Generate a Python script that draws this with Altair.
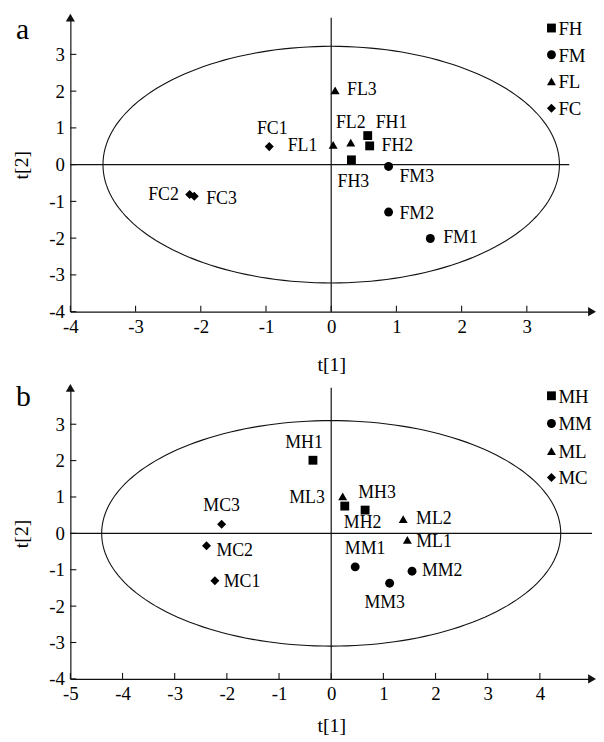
import altair as alt
import pandas as pd

FONT = "Liberation Serif"

# ---------------- panel a data ----------------
a_names = ["FH1", "FH2", "FH3", "FM1", "FM2", "FM3", "FL1", "FL2", "FL3", "FC1", "FC2", "FC3"]
a_groups = ["FH", "FH", "FH", "FM", "FM", "FM", "FL", "FL", "FL", "FC", "FC", "FC"]
a_t1 = [0.56, 0.59, 0.31, 1.52, 0.88, 0.88, 0.03, 0.30, 0.06, -0.95, -2.17, -2.10]
a_t2 = [0.79, 0.51, 0.13, -2.01, -1.29, -0.05, 0.54, 0.60, 2.02, 0.49, -0.81, -0.86]
a_legend = ["FH", "FM", "FL", "FC"]
a_xticks = [-4, -3, -2, -1, 0, 1, 2, 3]
a_yticks = [-4, -3, -2, -1, 0, 1, 2, 3]
a_xdomain = [-4, 4]
a_ydomain = [-4, 4]
a_ellipse = [3.5, 3.22]          # semi-axes of the confidence ellipse
a_hline = [-4, 3.65]             # extent of the t[2]=0 reference line

# ---------------- panel b data ----------------
b_names = ["MH1", "MH2", "MH3", "MM1", "MM2", "MM3", "ML1", "ML2", "ML3", "MC1", "MC2", "MC3"]
b_groups = ["MH", "MH", "MH", "MM", "MM", "MM", "ML", "ML", "ML", "MC", "MC", "MC"]
b_t1 = [-0.35, 0.26, 0.65, 0.46, 1.55, 1.12, 1.46, 1.38, 0.22, -2.23, -2.39, -2.10]
b_t2 = [2.01, 0.75, 0.64, -0.92, -1.04, -1.37, -0.18, 0.39, 1.02, -1.30, -0.34, 0.25]
b_legend = ["MH", "MM", "ML", "MC"]
b_xticks = [-5, -4, -3, -2, -1, 0, 1, 2, 3, 4]
b_yticks = [-4, -3, -2, -1, 0, 1, 2, 3]
b_xdomain = [-5, 5]
b_ydomain = [-4, 4]
b_ellipse = [4.4, 3.1]
b_hline = [-5, 5]

# ---------------- label placement (style, not data) ----------------
a_label_style = {
    "FL3": ("left", 12, 0), "FC1": ("center", 3, -18), "FL1": ("right", -16, 1),
    "FL2": ("center", 0, -20), "FH1": ("left", 8, -13), "FH2": ("left", 12, 0),
    "FH3": ("center", 2, 22), "FM3": ("left", 11, 11), "FM2": ("left", 11, 2),
    "FM1": ("left", 13, 0), "FC2": ("right", -11, 1), "FC3": ("left", 12, 3),
}
b_label_style = {
    "MH1": ("center", -9, -17), "ML3": ("right", -18, 2), "MH3": ("center", 12, -17),
    "MH2": ("center", 18, 17), "ML2": ("left", 13, 0), "ML1": ("left", 9, 2),
    "MM1": ("center", 10, -18), "MM2": ("left", 10, 0), "MM3": ("center", -5, 20),
    "MC3": ("center", 0, -18), "MC2": ("left", 10, 5), "MC1": ("left", 9, 1),
}

SHAPES = ["square", "circle", "triangle-up", "diamond"]
SIZES = [80, 85, 150, 90]
LINE = "#111111"
ARROW_KINDS = ["arrow-right", "arrow-up"]
ARROW_SHAPES = ["triangle-right", "triangle-up"]


def panel(names, groups, t1, t2, legend_order, xdom, ydom, xticks, yticks,
          ell, hline, letter, styles, W, H, letter_y, legend_rows, xtitle_pad):
    df = pd.DataFrame({"name": names, "group": groups, "t1": t1, "t2": t2})
    xs = alt.Scale(domain=xdom, nice=False, zero=False)
    ys = alt.Scale(domain=ydom, nice=False, zero=False)
    shape_scale = alt.Scale(domain=legend_order + ARROW_KINDS, range=SHAPES + ARROW_SHAPES)
    size_scale = alt.Scale(domain=legend_order + ARROW_KINDS, range=SIZES + [80, 80])
    common = dict(ticks=False, tickSize=0, grid=False, domainColor=LINE, domainWidth=1.2,
                  labelFont=FONT, labelFontSize=19, labelColor="black", labelFlush=False,
                  labelOverlap=False, labelExpr="'' + datum.value",
                  titleFont=FONT, titleFontSize=20, titleFontWeight="normal", titleColor="black")
    xax = alt.Axis(values=xticks, labelPadding=6, title="t[1]", titlePadding=xtitle_pad, **common)
    yax = alt.Axis(values=yticks, labelPadding=6, title="t[2]", titlePadding=17, **common)

    def X(f):
        return alt.X(f, type="quantitative", scale=xs, axis=xax)

    def Y(f):
        return alt.Y(f, type="quantitative", scale=ys, axis=yax)

    ellipse = alt.Chart(alt.sequence(0, 361, 2, as_="deg")).transform_calculate(
        ex=f"{ell[0]} * cos(datum.deg * PI / 180)",
        ey=f"{ell[1]} * sin(datum.deg * PI / 180)",
    ).mark_line(color=LINE, strokeWidth=1.1).encode(x=X("ex"), y=Y("ey"), order="deg:Q")

    hl = alt.Chart(pd.DataFrame({"x1": [hline[0]], "x2": [hline[1]], "y": [0]})).mark_rule(
        color=LINE, strokeWidth=1.2).encode(x=X("x1"), x2="x2", y=Y("y"))
    vl = alt.Chart(pd.DataFrame({"x": [0]})).mark_rule(
        color=LINE, strokeWidth=1.2).encode(x=X("x"))

    xt = alt.Chart(pd.DataFrame({"v": xticks})).mark_rule(color=LINE, strokeWidth=1.1).encode(
        x=X("v"), y=alt.value(H), y2=alt.value(H - 6))
    yt = alt.Chart(pd.DataFrame({"v": yticks})).mark_rule(color=LINE, strokeWidth=1.1).encode(
        y=Y("v"), x=alt.value(0), x2=alt.value(6))

    # axis arrowheads at the ends of the two axes, placed through the scales
    arrows = alt.Chart(pd.DataFrame({
        "kind": ARROW_KINDS, "ax": [xdom[1], xdom[0]], "ay": [ydom[0], ydom[1]],
    })).mark_point(filled=True, color=LINE, opacity=1).encode(
        x=X("ax"), y=Y("ay"),
        shape=alt.Shape("kind:N", scale=shape_scale, legend=None),
        size=alt.Size("kind:N", scale=size_scale, legend=None),
    )

    pts = alt.Chart(df).mark_point(filled=True, color="black", opacity=1).encode(
        x=X("t1"), y=Y("t2"),
        shape=alt.Shape("group:N", scale=shape_scale, legend=None),
        size=alt.Size("group:N", scale=size_scale, legend=None),
    )

    labels = []
    for nm, (al, dx, dy) in styles.items():
        labels.append(
            alt.Chart(df).transform_filter(alt.datum.name == nm).mark_text(
                font=FONT, fontSize=18, align=al, baseline="middle", dx=dx, dy=dy, color="black"
            ).encode(x=X("t1"), y=Y("t2"), text="name:N")
        )

    # hand-built legend: symbols come from the same shape scale
    leg = []
    for g, ry in zip(legend_order, legend_rows):
        gdf = pd.DataFrame({"group": [g]})
        leg.append(alt.Chart(gdf).mark_point(filled=True, color="black", opacity=1).encode(
            x=alt.value(486), y=alt.value(ry),
            shape=alt.Shape("group:N", scale=shape_scale, legend=None),
            size=alt.Size("group:N", scale=size_scale, legend=None)))
        leg.append(alt.Chart(gdf).mark_text(
            font=FONT, fontSize=19, align="left", baseline="middle", color="black").encode(
            x=alt.value(493), y=alt.value(ry + 1), text="group:N"))

    let = alt.Chart(pd.DataFrame({"t": [letter]})).mark_text(
        font=FONT, fontSize=30, align="left", baseline="alphabetic", color="black"
    ).encode(x=alt.value(-55), y=alt.value(letter_y), text="t:N")

    return alt.layer(ellipse, hl, vl, xt, yt, arrows, pts, *labels, *leg, let).properties(
        width=W, height=H)


pa = panel(a_names, a_groups, a_t1, a_t2, a_legend, a_xdomain, a_ydomain, a_xticks, a_yticks,
           a_ellipse, a_hline, "a", a_label_style, 527, 297, 22, [10.5, 37.5, 64.5, 91.5], 18)
pb = panel(b_names, b_groups, b_t1, b_t2, b_legend, b_xdomain, b_ydomain, b_xticks, b_yticks,
           b_ellipse, b_hline, "b", b_label_style, 527, 294, 18.5, [8, 36, 64, 90.5], 12)

chart = alt.vconcat(pa, pb, spacing=8).resolve_scale(
    x="independent", y="independent", shape="independent", size="independent"
).configure_view(stroke=None).properties(
    padding={"left": 4, "top": 2, "right": 0, "bottom": 0}, background="white"
)

chart.save("out.html", embed_options={"renderer": "svg", "actions": False})
